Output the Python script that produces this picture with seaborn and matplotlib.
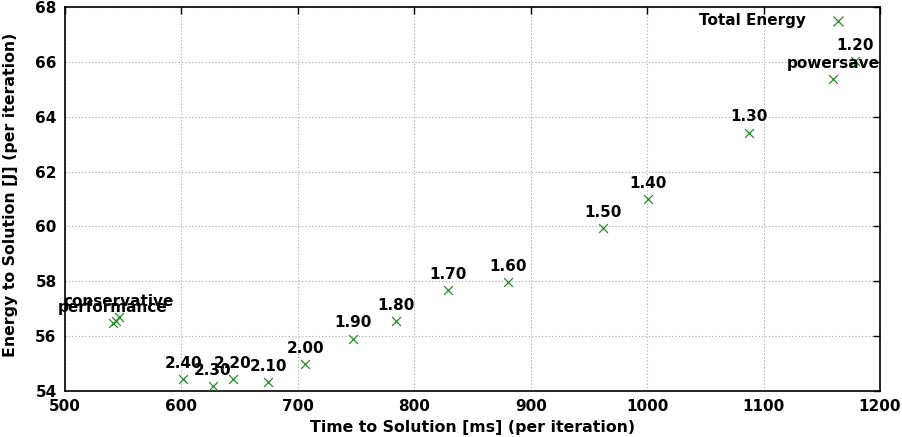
import os
import matplotlib
matplotlib.use("Agg")
import matplotlib.pyplot as plt
from matplotlib import font_manager as fm
import seaborn as sns
import pandas as pd

# Data
labels = ["performance", "", "conservative", "2.40", "2.30", "2.20", "2.10", "2.00",
          "1.90", "1.80", "1.70", "1.60", "1.50", "1.40", "1.30", "powersave", "1.20"]
time_ms = [541.2, 543.8, 546.4, 601.4, 627.1, 644.3, 674.4, 706.2,
           747.4, 784.4, 829.0, 880.6, 962.2, 1000.9, 1087.6, 1159.8, 1178.7]
energy_j = [56.48, 56.55, 56.70, 54.44, 54.18, 54.44, 54.33, 54.98,
            55.90, 56.55, 57.68, 57.97, 59.94, 61.00, 63.41, 65.37, 66.03]
series_name = "Total Energy"
x_ticks = [500, 600, 700, 800, 900, 1000, 1100, 1200]
y_ticks = [54, 56, 58, 60, 62, 64, 66, 68]

df = pd.DataFrame({"time": time_ms, "energy": energy_j, "label": labels})

sns.set_style("white")
plt.rcParams["font.family"] = ["DejaVu Sans"]
plt.rcParams["font.stretch"] = "normal"
plt.rcParams["text.color"] = "black"
plt.rcParams["axes.labelcolor"] = "black"

bold_path = os.path.join(matplotlib.get_data_path(), "fonts", "ttf", "DejaVuSans-Bold.ttf")
if os.path.exists(bold_path):
    def fp(size):
        return fm.FontProperties(fname=bold_path, size=size)
else:
    def fp(size):
        return fm.FontProperties(family="DejaVu Sans", weight="bold", size=size)

fig = plt.figure(figsize=(9.03, 4.37), dpi=100)
ax = fig.add_axes([0.072, 0.105, 0.9025, 0.879])

green = "#2a8a2a"
sns.scatterplot(data=df, x="time", y="energy", marker="x", color=green,
                s=40, linewidth=0.9, ax=ax, legend=False, zorder=3)

for _, r in df.iterrows():
    if r["label"]:
        ax.annotate(r["label"], (r["time"], r["energy"]), xytext=(0, 16),
                    textcoords="offset pixels", ha="center", va="center",
                    fontproperties=fp(11), color="black", zorder=4)

ax.set_xlim(500, 1200)
ax.set_ylim(54, 68)
ax.set_xticks(x_ticks)
ax.set_yticks(y_ticks)
ax.tick_params(direction="in", length=5, width=1, top=True, right=True,
               labeltop=False, labelright=False, colors="black")
ax.tick_params(axis="x", pad=6)
ax.tick_params(axis="y", pad=6)
for lab in ax.get_xticklabels() + ax.get_yticklabels():
    lab.set_fontproperties(fp(11))
for s in ax.spines.values():
    s.set_visible(True)
    s.set_color("black")
    s.set_linewidth(1.2)

ax.grid(True, linestyle=(0, (1, 2)), color="#a8a8a8", linewidth=0.8)
ax.set_axisbelow(True)

ax.set_xlabel("Time to Solution [ms] (per iteration)", fontproperties=fp(11.3),
              color="black", va="center")
ax.set_ylabel("Energy to Solution [J] (per iteration)", fontproperties=fp(11.3),
              color="black", va="center")
ax.xaxis.set_label_coords(0.5, -0.096)
ax.yaxis.set_label_coords(-0.067, 0.51)

# legend entry (gnuplot-style key)
ax.text(806 / 903, 1 - 21 / 437, series_name, transform=fig.transFigure,
        ha="right", va="center", fontproperties=fp(11), color="black")
fig.lines.append(plt.Line2D([838 / 903], [1 - 21 / 437], marker="x", color=green,
                            markersize=6.5, markeredgewidth=0.9, linestyle="none",
                            transform=fig.transFigure))

fig.savefig("out.png", dpi=100)
